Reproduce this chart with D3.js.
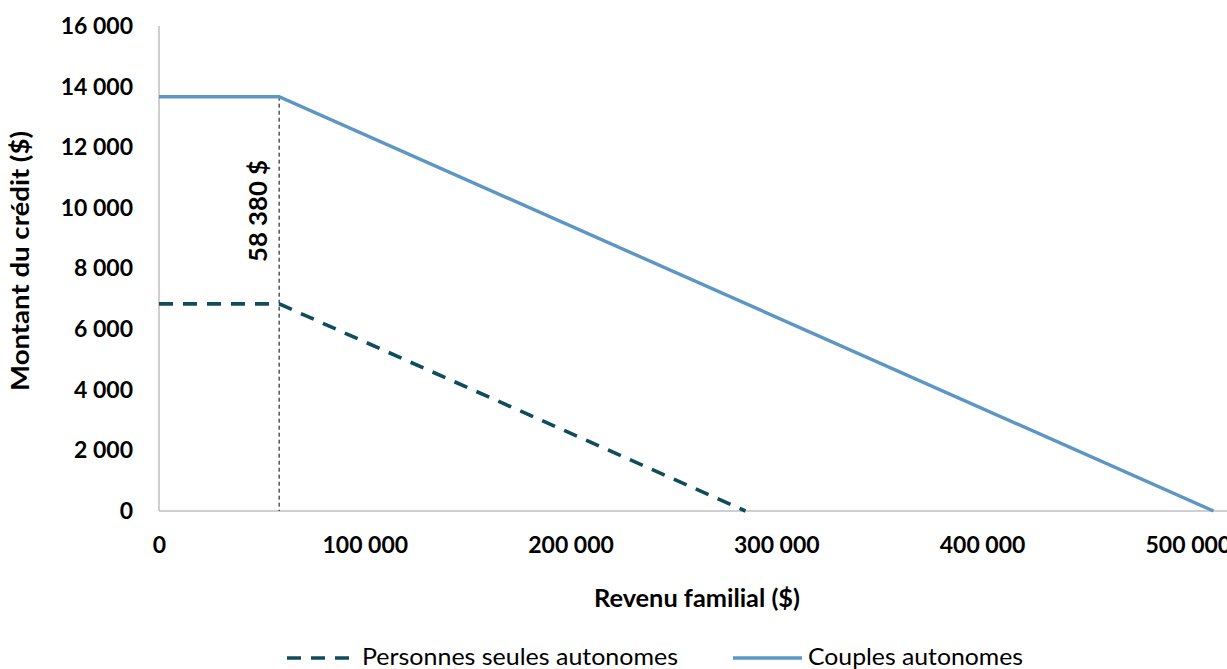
<!DOCTYPE html>
<html>
<head>
<meta charset="utf-8">
<script src="https://cdn.jsdelivr.net/npm/d3@7"></script>
<style>
  html, body { margin: 0; padding: 0; background: #fff; }
  svg { display: block; font-family: Lato, "Open Sans", sans-serif; }
</style>
</head>
<body>
<svg id="chart" width="1227" height="669"></svg>
<script>
// ---- data ----
const seriesNames = ["Personnes seules autonomes", "Couples autonomes"];
const singlesIncome = [0, 58380, 285000];
const singlesCredit = [6834, 6834, 0];
const couplesIncome = [0, 58380, 512500];
const couplesCredit = [13668, 13668, 0];
const thresholdIncome = 58380;
const thresholdLabel = "58 380 $";
const xTicks = [0, 100000, 200000, 300000, 400000, 500000];
const yTicks = [0, 2000, 4000, 6000, 8000, 10000, 12000, 14000, 16000];
const xTitle = "Revenu familial ($)";
const yTitle = "Montant du crédit ($)";

// ---- layout ----
const W = 1227, H = 669;
const svg = d3.select("#chart");
const x = d3.scaleLinear().domain([0, 520000]).range([159, 1229]);
const y = d3.scaleLinear().domain([0, 16000]).range([511, 26]);
const loc = d3.formatLocale({decimal: ",", thousands: "\u00a0", grouping: [3], currency: ["", " $"]});
const fmt = loc.format(",d");

const colSingles = "#0f4c5c";
const colCouples = "#5b97c2";
const axisCol = "#bfbfbf";

// axes lines
svg.append("line").attr("x1", x(0)).attr("x2", W).attr("y1", y(0)).attr("y2", y(0))
  .attr("stroke", axisCol).attr("stroke-width", 1.5);
svg.append("line").attr("x1", x(0)).attr("x2", x(0)).attr("y1", y(0)).attr("y2", y(16000))
  .attr("stroke", axisCol).attr("stroke-width", 1.5);

// y axis labels
const yAxis = d3.axisLeft(y).tickValues(yTicks).tickSize(0).tickPadding(26).tickFormat(fmt);
const gy = svg.append("g").attr("transform", `translate(${x(0)},0)`).call(yAxis);
gy.select(".domain").remove();
gy.selectAll("text").attr("font-size", 23).attr("font-weight", 700).attr("fill", "#000")
  .attr("font-family", "Lato, sans-serif");

// x axis labels
const xAxis = d3.axisBottom(x).tickValues(xTicks).tickSize(0).tickPadding(26).tickFormat(fmt);
const gx = svg.append("g").attr("transform", `translate(0,${y(0)})`).call(xAxis);
gx.select(".domain").remove();
gx.selectAll("text").attr("font-size", 23).attr("font-weight", 700).attr("fill", "#000")
  .attr("font-family", "Lato, sans-serif");

// threshold line
svg.append("line").attr("x1", x(thresholdIncome)).attr("x2", x(thresholdIncome))
  .attr("y1", y(couplesCredit[1])).attr("y2", y(0))
  .attr("stroke", "#000").attr("stroke-width", 1).attr("stroke-dasharray", "4,3");

// series lines
const line = d3.line().x(d => x(d[0])).y(d => y(d[1]));
const singles = singlesIncome.map((v, i) => [v, singlesCredit[i]]);
const couples = couplesIncome.map((v, i) => [v, couplesCredit[i]]);
svg.append("path").datum(couples).attr("d", line).attr("fill", "none")
  .attr("stroke", colCouples).attr("stroke-width", 3.4);
svg.append("path").datum(singles).attr("d", line).attr("fill", "none")
  .attr("stroke", colSingles).attr("stroke-width", 3.6).attr("stroke-dasharray", "14,10");

// threshold annotation
svg.append("text").attr("transform", `translate(267,211) rotate(-90)`)
  .attr("text-anchor", "middle").attr("font-size", 25).attr("font-weight", 700)
  .attr("textLength", 102).attr("lengthAdjust", "spacingAndGlyphs")
  .text(thresholdLabel);

// axis titles
svg.append("text").attr("x", 697).attr("y", 607).attr("text-anchor", "middle")
  .attr("font-size", 24).attr("font-weight", 700)
  .attr("textLength", 206).attr("lengthAdjust", "spacingAndGlyphs").text(xTitle);
svg.append("text").attr("transform", `translate(29,261) rotate(-90)`)
  .attr("text-anchor", "middle").attr("font-size", 24).attr("font-weight", 700)
  .attr("textLength", 260).attr("lengthAdjust", "spacingAndGlyphs").text(yTitle);

// legend
const leg = svg.append("g");
const legItems = [
  {name: seriesNames[0], col: colSingles, dash: "14,10", w: 3.6, x1: 287, x2: 357, tx: 362, tw: 316},
  {name: seriesNames[1], col: colCouples, dash: null, w: 3.4, x1: 733, x2: 802, tx: 808, tw: 215}
];
legItems.forEach(it => {
  leg.append("line").attr("x1", it.x1).attr("x2", it.x2).attr("y1", 658).attr("y2", 658)
    .attr("stroke", it.col).attr("stroke-width", it.w).attr("stroke-dasharray", it.dash);
  leg.append("text").attr("x", it.tx).attr("y", 665).attr("font-size", 23)
    .attr("textLength", it.tw).attr("lengthAdjust", "spacingAndGlyphs").text(it.name);
});
</script>
</body>
</html>
